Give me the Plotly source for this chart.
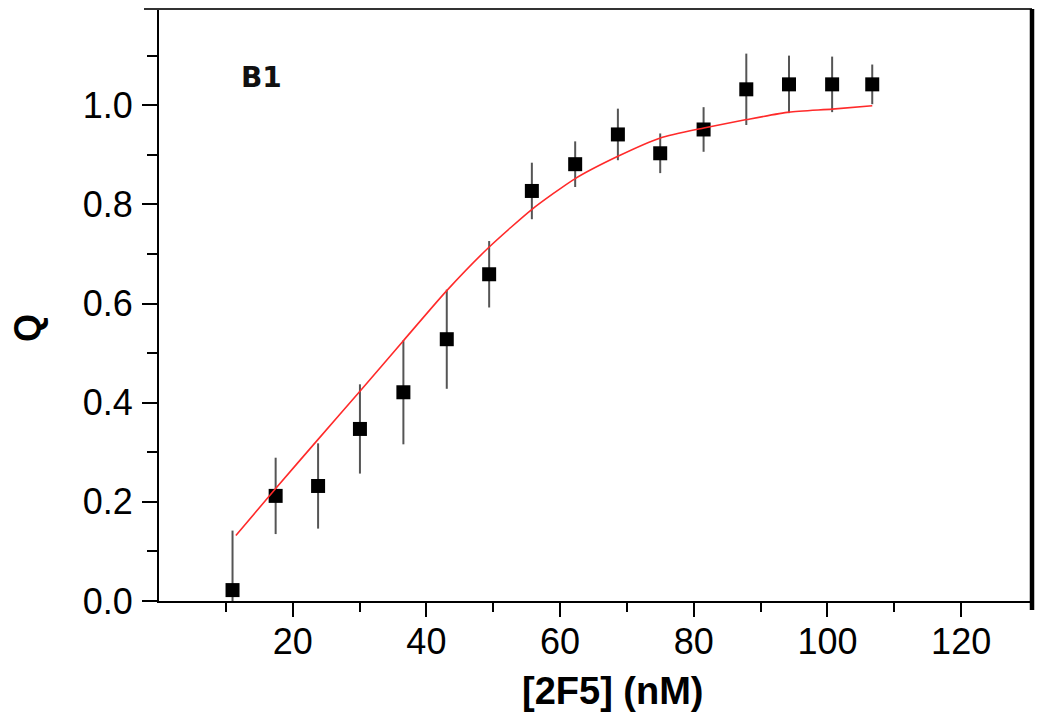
import plotly.graph_objects as go

# Data
conc = [11.0, 17.45, 23.8, 30.06, 36.56, 43.05, 49.39, 55.78, 62.26, 68.65,
        74.98, 81.47, 87.86, 94.25, 100.7, 106.7]
q_vals = [0.022, 0.212, 0.232, 0.347, 0.421, 0.528, 0.659, 0.827, 0.881, 0.941,
          0.903, 0.951, 1.032, 1.042, 1.042, 1.042]
q_err = [0.12, 0.077, 0.086, 0.09, 0.105, 0.1, 0.067, 0.057, 0.046, 0.052,
         0.04, 0.045, 0.072, 0.058, 0.056, 0.04]

fit_x = [11.5, 17.45, 23.8, 30.06, 36.56, 43.05, 49.4, 55.8, 62.26, 68.65,
         75.0, 81.5, 87.9, 94.25, 100.7, 106.7]
fit_y = [0.132, 0.227, 0.326, 0.423, 0.525, 0.626, 0.714, 0.79, 0.852, 0.897,
         0.934, 0.954, 0.971, 0.986, 0.992, 0.999]

x_ticks = [20, 40, 60, 80, 100, 120]
y_ticks = [0.0, 0.2, 0.4, 0.6, 0.8, 1.0]

FONT = "Liberation Sans, Arial, Helvetica, sans-serif"

# page body adds an 8px offset; plot area in figure coords:
L, R, T, B = 151, 1024, 1, 593
W, H = 1050, 719
PW, PH = R - L, B - T

fig = go.Figure()

fig.add_trace(go.Scatter(
    x=conc, y=q_vals, mode="markers",
    marker=dict(symbol="square", size=14, color="black", line=dict(width=0)),
    error_y=dict(type="data", array=q_err, visible=True, color="#555555",
                 thickness=2, width=0),
    showlegend=False,
))

fig.add_trace(go.Scatter(
    x=fit_x, y=fit_y, mode="lines",
    line=dict(color="#ff2a2a", width=1.6, shape="spline", smoothing=0.6),
    showlegend=False,
))

fig.update_layout(
    width=W, height=H,
    margin=dict(l=L, r=W - R, t=T, b=H - B),
    paper_bgcolor="white", plot_bgcolor="white",
    font=dict(family=FONT, size=36, color="black"),
    xaxis=dict(
        range=[0, 130.6], showgrid=False, zeroline=False,
        showline=True, linecolor="black", linewidth=2,
        tickmode="array", tickvals=x_ticks, ticktext=[str(v) for v in x_ticks],
        ticks="outside", ticklen=14, tickwidth=2, tickcolor="black",
        tickfont=dict(size=36, family=FONT), ticklabelstandoff=-6,
        minor=dict(tickmode="array", tickvals=[10, 30, 50, 70, 90, 110],
                   ticks="outside", ticklen=9, tickwidth=2, tickcolor="black"),
    ),
    yaxis=dict(
        range=[0, 1.194], showgrid=False, zeroline=False,
        showline=True, linecolor="black", linewidth=2,
        tickmode="array", tickvals=y_ticks, ticktext=["%.1f" % v for v in y_ticks],
        ticks="outside", ticklen=15, tickwidth=2, tickcolor="black",
        tickfont=dict(size=36, family=FONT), ticklabelstandoff=2,
        minor=dict(tickmode="array", tickvals=[0.1, 0.3, 0.5, 0.7, 0.9, 1.1],
                   ticks="outside", ticklen=10, tickwidth=2, tickcolor="black"),
    ),
    shapes=[
        # top frame line
        dict(type="line", xref="paper", yref="paper", x0=-15 / PW, x1=1.0, y0=1, y1=1,
             line=dict(color="#333333", width=2)),
        # thick right border
        dict(type="line", xref="paper", yref="paper", x0=1.0, x1=1.0, y0=1.0, y1=-9 / PH,
             line=dict(color="black", width=4.5)),
    ],
    annotations=[
        dict(text="<b>B1</b>", xref="paper", yref="paper",
             x=(231 - L) / PW, y=(B - 69) / PH, showarrow=False,
             xanchor="left", yanchor="middle",
             font=dict(family="DejaVu Sans", size=28, color="#111111")),
        dict(text="<b>[2F5] (nM)</b>", xref="paper", yref="paper",
             x=(605 - L) / PW, y=-(683 - B) / PH, showarrow=False,
             xanchor="center", yanchor="middle",
             font=dict(family=FONT, size=38, color="black")),
        dict(text="<b>Q</b>", xref="paper", yref="paper",
             x=-(L - 19) / PW, y=(B - 320) / PH, showarrow=False,
             textangle=-90, xanchor="center", yanchor="middle",
             font=dict(family=FONT, size=36, color="black")),
    ],
)

fig.write_html("out.html")
